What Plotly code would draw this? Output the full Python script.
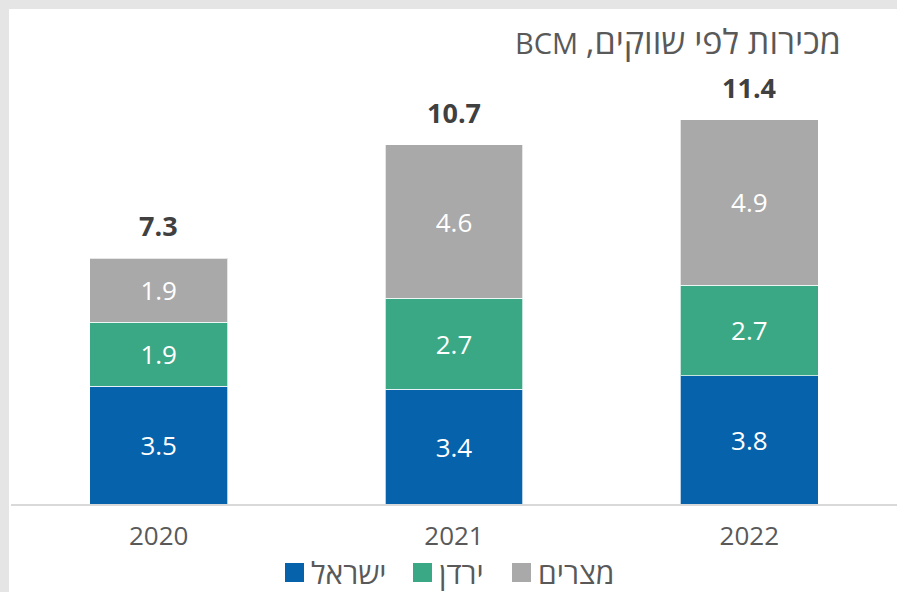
import plotly.graph_objects as go

# ---- data ----
years = ["2020", "2021", "2022"]
israel = [3.5, 3.4, 3.8]
jordan = [1.9, 2.7, 2.7]
egypt = [1.9, 4.56, 4.9]
series_names = ["ישראל", "ירדן", "מצרים"]
title_hebrew = "מכירות לפי שווקים,"
title_latin = "BCM"

colors = ["#0562ab", "#3aa885", "#a9a9a9"]
FONT = "Open Sans"

W, H = 897, 592
L, R, T, B = 11, 0, 66, 88


def px(x):
    return (x - L) / (W - L - R)


def py(y):
    return (H - B - y) / (H - T - B)


totals = [a + b + c for a, b, c in zip(israel, jordan, egypt)]

fig = go.Figure()
for name, vals, col in zip(series_names, [israel, jordan, egypt], colors):
    fig.add_trace(go.Bar(
        x=years, y=vals, name=name,
        marker=dict(color=col, line=dict(color="rgba(255,255,255,0.7)", width=1)),
        text=[f"{v:.1f}" for v in vals],
        textposition="inside", insidetextanchor="middle",
        textfont=dict(color="white", size=26, family=FONT),
        constraintext="none",
        showlegend=False,
    ))

annotations = []
for i, tot in enumerate(totals):
    annotations.append(dict(
        x=i, y=tot, xref="x", yref="y", text=f"<b>{tot:.1f}</b>",
        showarrow=False, yanchor="bottom", yshift=12,
        font=dict(size=27, color="#404040", family=FONT),
    ))

title_text = (f"{title_latin} "
              f"<span style='font-size:34px'>\u202b{title_hebrew}\u202c</span>")
annotations.append(dict(
    x=px(843), y=py(41), xref="paper", yref="paper", text=title_text,
    showarrow=False, xanchor="right", yanchor="middle",
    font=dict(size=29, color="#595959", family=FONT),
))

# manual legend
shapes = [
    dict(type="rect", xref="paper", yref="paper", layer="below",
         x0=px(9), x1=px(W + 5), y0=py(9), y1=py(H + 5),
         fillcolor="white", line=dict(width=0)),
]
legend_sq_x = [285, 413, 512]
for name, col, sx in zip(series_names, colors, legend_sq_x):
    shapes.append(dict(type="rect", xref="paper", yref="paper",
                       x0=px(sx), x1=px(sx + 19), y0=py(563), y1=py(582),
                       fillcolor=col, line=dict(width=0)))
    annotations.append(dict(
        x=px(sx + 24), y=py(572), xref="paper", yref="paper", text=name,
        showarrow=False, xanchor="left", yanchor="middle",
        font=dict(size=30, color="#595959", family=FONT),
    ))

fig.update_layout(
    width=W, height=H,
    margin=dict(l=L, r=R, t=T, b=B, pad=0),
    barmode="stack", bargap=0.533,
    paper_bgcolor="#e5e5e5", plot_bgcolor="rgba(0,0,0,0)",
    showlegend=False,
    font=dict(family=FONT, color="#595959"),
    xaxis=dict(type="category", range=[-0.5, 2.5], showline=True,
               linecolor="#d9d9d9", linewidth=2,
               showgrid=False, ticks="", ticklabelstandoff=8,
               tickfont=dict(size=26, color="#595959", family=FONT)),
    yaxis=dict(range=[0, 13], visible=False, showgrid=False, zeroline=False),
    annotations=annotations, shapes=shapes,
)

fig.write_html("out.html", config={"displayModeBar": False},
               post_script="document.body.style.margin='0';")
